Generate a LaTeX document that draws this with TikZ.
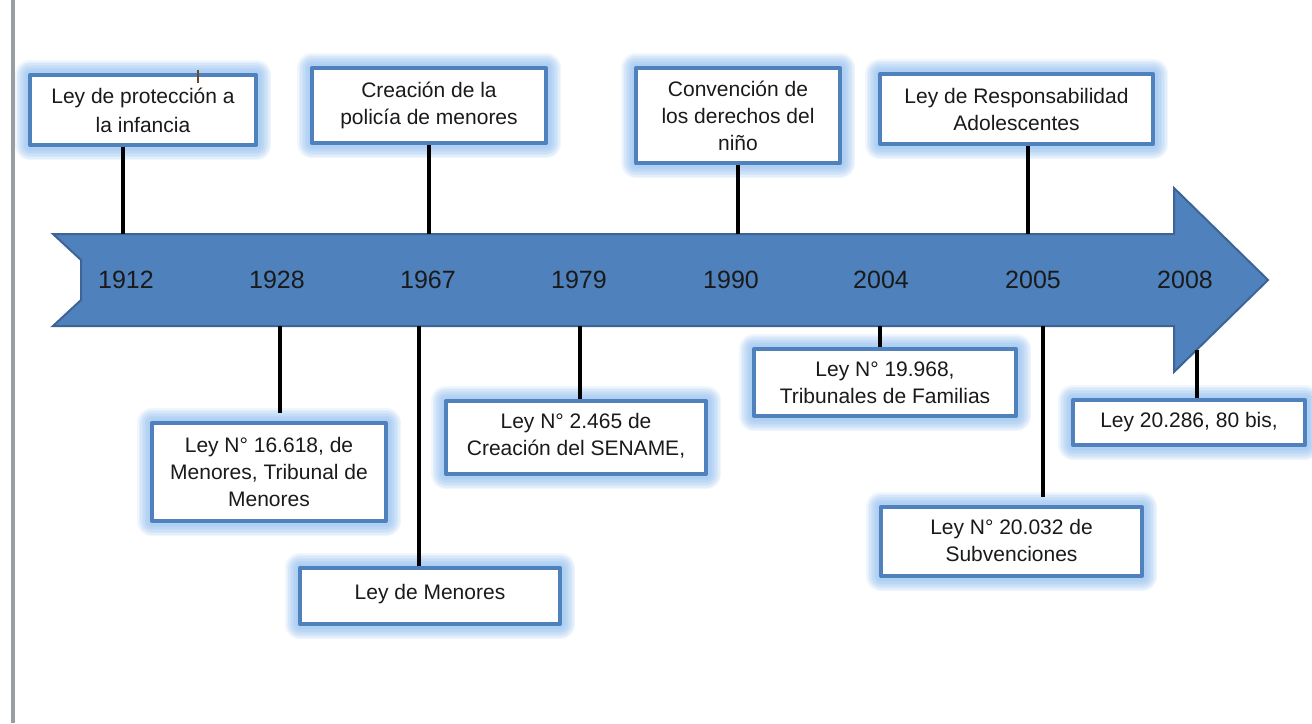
\documentclass[tikz,border=0pt]{standalone}
\usepackage{fontspec}
\setmainfont{Liberation Sans}
\definecolor{arrfill}{HTML}{4F81BD}
\definecolor{arrdraw}{HTML}{3C6494}
\definecolor{boxdraw}{HTML}{4F81BD}
\definecolor{glowc}{HTML}{8CBBF0}
\definecolor{leftbar}{HTML}{9A9DA1}
\definecolor{textc}{HTML}{1A1A1A}
\definecolor{cursorc}{HTML}{6B4A2A}
\newcommand{\boxfont}{\fontsize{21}{27}\selectfont}
\newcommand{\yearfont}{\fontsize{25}{30}\selectfont}
\tikzset{
  glowlayer/.style={preaction={draw=glowc, draw opacity=0.13, line width=#1, line join=round}},
  evbox/.style={draw=boxdraw, line width=4pt, fill=white, align=center, inner sep=0pt,
    font=\boxfont, text=textc, line join=round,
    glowlayer=30pt, glowlayer=27pt, glowlayer=24pt, glowlayer=21pt, glowlayer=18pt,
    glowlayer=15pt, glowlayer=12pt, glowlayer=9pt},
  conn/.style={draw=black, line width=4pt},
  yr/.style={font=\yearfont, text=textc, inner sep=0pt}
}
\begin{document}
\begin{tikzpicture}[x=1pt,y=-1pt]
\useasboundingbox (0,0) rectangle (1312,723);
\fill[white] (0,0) rectangle (1312,723);
% left grey bar
\draw[leftbar, line width=4pt] (12.5,0) -- (12.5,723);

% timeline arrow
\draw[arrdraw, fill=arrfill, line width=2pt, line join=miter]
  (53,234) -- (1174,234) -- (1174,188) -- (1268,280) -- (1174,372) -- (1174,326)
  -- (53,326) -- (81,300) -- (81,260) -- cycle;

% years
\node[yr] (y1912) at (126,280) {1912};
\node[yr] (y1928) at (277,280) {1928};
\node[yr] (y1967) at (428,280) {1967};
\node[yr] (y1979) at (579,280) {1979};
\node[yr] (y1990) at (731,280) {1990};
\node[yr] (y2004) at (881,280) {2004};
\node[yr] (y2005) at (1033,280) {2005};
\node[yr] (y2008) at (1185,280) {2008};

% attachment points on the arrow
\coordinate (a1) at (123,234);
\coordinate (a2) at (429,234);
\coordinate (a3) at (738,234);
\coordinate (a4) at (1028,234);
\coordinate (a5) at (280,326);
\coordinate (a6) at (419,326);
\coordinate (a7) at (580,326);
\coordinate (a8) at (880,326);
\coordinate (a9) at (1043,326);
\coordinate (a10) at (1197,350);
\coordinate (e5) at (280,413);
\coordinate (e9) at (1043,497);

% event boxes
\node[evbox, minimum width=226pt, minimum height=70pt] (b1) at (143,110)
  {\raisebox{2pt}{Ley de protección a}\\la infancia};
\node[evbox, minimum width=234pt, minimum height=75pt] (b2) at (429,105.5)
  {\raisebox{5pt}{Creación de la}\\\raisebox{5pt}{policía de menores}};
\node[evbox, minimum width=204pt, minimum height=95pt] (b3) at (738,115.5)
  {Convención de\\los derechos del\\niño};
\node[evbox, minimum width=273pt, minimum height=70pt] (b4) at (1016.5,109)
  {Ley de Responsabilidad\\Adolescentes};
\node[evbox, minimum width=234pt, minimum height=98pt] (b5) at (269,472)
  {Ley N° 16.618, de\\Menores, Tribunal de\\Menores};
\node[evbox, minimum width=260pt, minimum height=56pt] (b6) at (430,596)
  {\raisebox{8pt}{Ley de Menores}};
\node[evbox, minimum width=260pt, minimum height=73pt] (b7) at (576,437.5)
  {\raisebox{6pt}{Ley N° 2.465 de}\\\raisebox{6pt}{Creación del SENAME,}};
\node[evbox, minimum width=262pt, minimum height=67pt] (b8) at (885,382.5)
  {Ley N° 19.968,\\Tribunales de Familias};
\node[evbox, minimum width=261pt, minimum height=69pt] (b9) at (1011.5,541.5)
  {\raisebox{3pt}{Ley N° 20.032 de}\\\raisebox{3pt}{Subvenciones}};
\node[evbox, minimum width=232pt, minimum height=45pt] (b10) at (1189,422.5)
  {Ley 20.286, 80 bis,};

% connectors
\draw[conn] (a1) -- (a1 |- b1.south);
\draw[conn] (a2) -- (a2 |- b2.south);
\draw[conn] (a3) -- (a3 |- b3.south);
\draw[conn] (a4) -- (a4 |- b4.south);
\draw[conn] (a5) -- (e5);
\draw[conn] (a6) -- (a6 |- b6.north);
\draw[conn] (a7) -- (a7 |- b7.north);
\draw[conn] (a8) -- (a8 |- b8.north);
\draw[conn] (a9) -- (e9);
\draw[conn] (a10) -- (a10 |- b10.north);

% text cursor mark in first box
\draw[cursorc, line width=2pt] (198,70) -- (198,83);
\end{tikzpicture}
\end{document}
